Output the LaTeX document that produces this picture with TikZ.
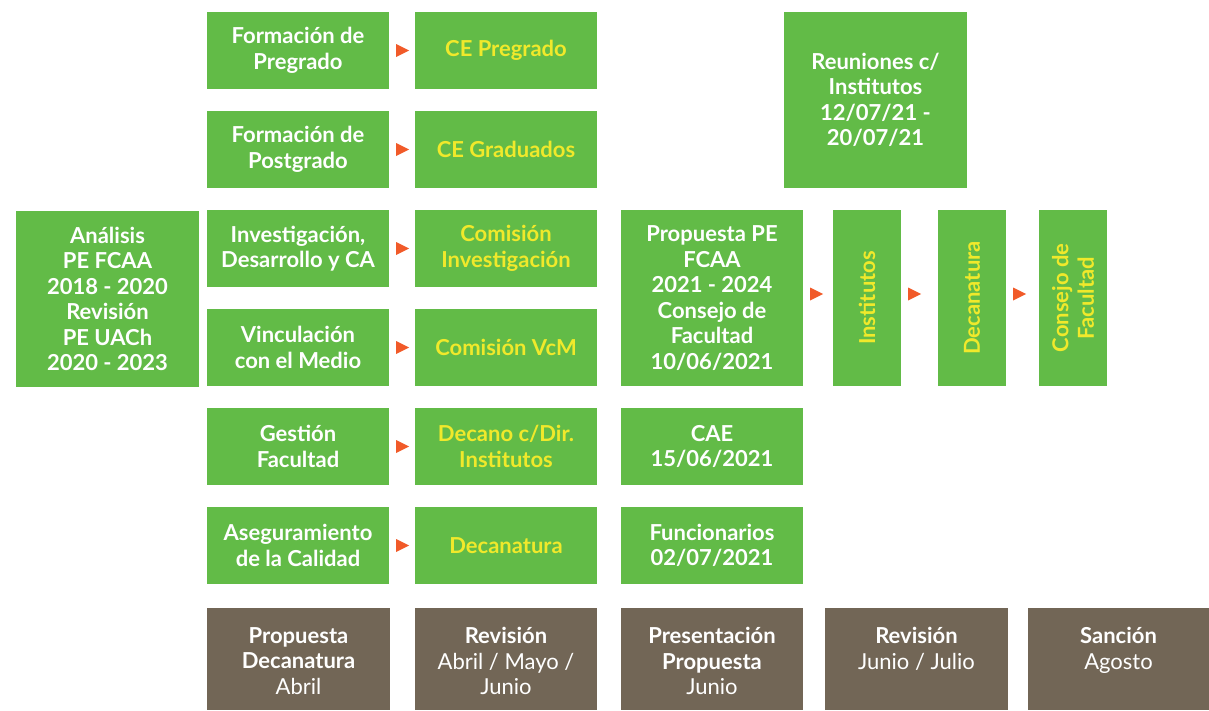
\documentclass[tikz,border=0pt]{standalone}
\usepackage{fontspec}
\setmainfont{Lato}
\usetikzlibrary{decorations.markings}
\definecolor{leaf}{HTML}{62BB47}
\definecolor{lemon}{HTML}{F0E92B}
\definecolor{umber}{HTML}{726656}
\definecolor{flame}{HTML}{F15A29}

\begin{document}
\begin{tikzpicture}[x=1pt,y=-1pt,
  box/.style={fill=leaf, inner sep=0pt, align=center, text=white,
    font=\bfseries\fontsize{22}{25.5}\selectfont,
    minimum width=182pt, minimum height=77pt},
  tallbox/.style={box, minimum height=176pt},
  lemonbox/.style={box, text=lemon},
  upright/.style={lemonbox, rotate=90, minimum width=176pt, minimum height=68pt},
  monthbox/.style={fill=umber, inner sep=0pt, minimum width=182pt, minimum height=102pt},
  monthtxt/.style={inner sep=0pt, align=center, text=white, anchor=north,
    font=\fontsize{22}{25.5}\selectfont, execute at begin node=\strut},
  flow/.style={decoration={markings,
    mark=at position 7pt with {\fill[flame] (0pt,-6.5pt) -- (13pt,0pt) -- (0pt,6.5pt) -- cycle;}},
    postaction=decorate}
]
\useasboundingbox (0,0) rectangle (1209,710);

% analysis of the previous plans
\node[tallbox, minimum width=183pt] (ana) at (107.5,299) {Análisis\\PE FCAA\\2018 - 2020\\Revisión\\PE UACh\\2020 - 2023};

% areas of the faculty
\node[box] (f1) at (298,50.5)  {Formación de\\Pregrado};
\node[box] (f2) at (298,149.5) {Formación de\\Postgrado};
\node[box] (f3) at (298,248.5) {Investigación,\\Desarrollo y CA};
\node[box] (f4) at (298,347.5) {Vinculación\\con el Medio};
\node[box] (f5) at (298,446.5) {Gestión\\Facultad};
\node[box] (f6) at (298,545.5) {Aseguramiento\\de la Calidad};

% committees that review each area
\node[lemonbox] (g1) at (506,50.5)  {CE Pregrado};
\node[lemonbox] (g2) at (506,149.5) {CE Graduados};
\node[lemonbox] (g3) at (506,248.5) {Comisión\\Investigación};
\node[lemonbox] (g4) at (506,347.5) {Comisión VcM};
\node[lemonbox] (g5) at (506,446.5) {Decano c/Dir.\\Institutos};
\node[lemonbox] (g6) at (506,545.5) {Decanatura};

% presentation of the proposal
\node[tallbox] (prop) at (712,298) {Propuesta PE\\FCAA\\2021 - 2024\\Consejo de\\Facultad\\10/06/2021};
\node[box] (cae)  at (712,446.5) {CAE\\15/06/2021};
\node[box] (func) at (712,545.5) {Funcionarios\\02/07/2021};
\node[tallbox, minimum width=183pt] (reun) at (875.5,100) {Reuniones c/\\Institutos\\12/07/21 -\\20/07/21};

% review and sanction chain (rotated: north faces left, south faces right)
\node[upright] (inst) at (867,298)  {Institutos};
\node[upright] (dec)  at (972,298)  {Decanatura};
\node[upright] (cons) at (1073,298) {Consejo de\\Facultad};

% flow markers
\foreach \a/\b in {f1/g1,f2/g2,f3/g3,f4/g4,f5/g5,f6/g6}
  \path[flow] (\a.east) -- (\b.west);
\path[flow] ([yshift=4pt]prop.east) -- ([yshift=4pt]inst.north);
\path[flow] ([yshift=4pt]inst.south) -- ([yshift=4pt]dec.north);
\path[flow] ([yshift=4pt]dec.south) -- ([yshift=4pt]cons.north);

% timeline
\node[monthbox, minimum width=183pt] (m1) at (298.5,659)  {};
\node[monthbox] (m2) at (506,659)    {};
\node[monthbox] (m3) at (712,659)    {};
\node[monthbox, minimum width=183pt] (m4) at (916.5,659)  {};
\node[monthbox, minimum width=181pt] (m5) at (1118.5,659) {};
\node[monthtxt] (t1) at ([yshift=-19.5pt]m1.north) {\textbf{Propuesta}\\\textbf{Decanatura}\\Abril};
\node[monthtxt] (t2) at ([yshift=-19.5pt]m2.north) {\textbf{Revisión}\\Abril / Mayo /\\Junio};
\node[monthtxt] (t3) at ([yshift=-19.5pt]m3.north) {\textbf{Presentación}\\\textbf{Propuesta}\\Junio};
\node[monthtxt] (t4) at ([yshift=-19.5pt]m4.north) {\textbf{Revisión}\\Junio / Julio};
\node[monthtxt] (t5) at ([yshift=-19.5pt]m5.north) {\textbf{Sanción}\\Agosto};
\end{tikzpicture}
\end{document}
